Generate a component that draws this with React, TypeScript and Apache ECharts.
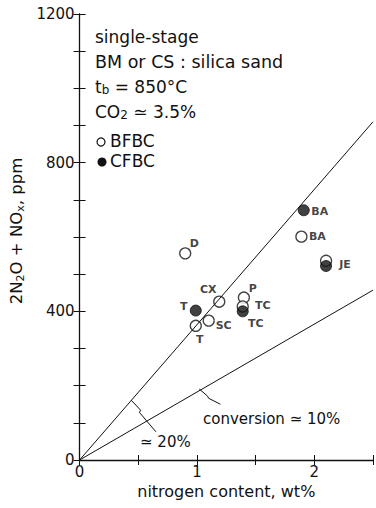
import React, { useEffect, useRef } from "react";
import * as echarts from "echarts";

// BFBC (open circles)
const openNames = ["D", "CX", "P", "TC", "BA", "JE", "SC", "T"];
const openX = [0.9, 1.19, 1.4, 1.39, 1.89, 2.1, 1.1, 0.99];
const openY = [556, 426, 437, 413, 601, 536, 375, 361];
// CFBC (filled circles)
const filledNames = ["BA", "JE", "TC", "T"];
const filledX = [1.91, 2.1, 1.39, 0.99];
const filledY = [672, 522, 400, 402];
// conversion lines
const conv20 = [[0, 0], [2.5, 910]];
const conv10 = [[0, 0], [2.5, 457]];
// leader marks (data coordinates)
const leader10 = [[1.02, 191], [1.09, 172], [1.1, 166], [1.2, 150]];
const leader20 = [[0.44, 161], [0.52, 134], [0.51, 128], [0.65, 76]];

// label offsets (pixels, relative to symbol centre)
const openOffsets: Record<string, number[]> = {
  D: [9, -10], CX: [-11, -12], P: [9, -9], TC: [20, -1], BA: [16, 0], JE: [0, 0], SC: [15, 5], T: [4, 14],
};
const filledOffsets: Record<string, number[]> = {
  BA: [16, 1], JE: [19, -1], TC: [13, 12], T: [-12, -4],
};

const FONT = "DejaVu Sans";

export default function App() {
  const ref = useRef<HTMLDivElement>(null);
  useEffect(() => {
    if (!ref.current) return;
    const chart = echarts.init(ref.current, null, { renderer: "svg" });
    const labelStyle = {
      fontFamily: FONT, fontSize: 11, fontWeight: "bold", color: "#111",
      textBorderWidth: 0, textBorderColor: "transparent",
    };
    const pt = (names: string[], xs: number[], ys: number[], offs: Record<string, number[]>, showJE: boolean) =>
      names.map((n, i) => ({
        value: [xs[i], ys[i]],
        name: n,
        label: {
          ...labelStyle,
          show: !(n === "JE" && !showJE),
          formatter: n,
          position: "inside",
          offset: offs[n],
        },
      }));
    chart.setOption({
      animation: false,
      backgroundColor: "#fff",
      grid: { left: 79, right: 1, top: 14, bottom: 48 },
      xAxis: [
        {
          type: "value", min: 0, max: 2.5, interval: 0.5,
          name: "nitrogen content, wt%", nameLocation: "middle", nameGap: 20,
          nameTextStyle: { fontFamily: FONT, fontSize: 16, color: "#111" },
          axisLine: { lineStyle: { color: "#111", width: 1.3 } },
          axisTick: { inside: true, length: 5, lineStyle: { color: "#111" } },
          axisLabel: {
            fontFamily: FONT, fontSize: 15, color: "#111", margin: 4,
            formatter: (v: number) => (Math.abs(v - Math.round(v)) < 1e-9 && v < 2.4 ? String(Math.round(v)) : ""),
          },
          splitLine: { show: false },
        },
        {
          type: "value", min: 0, max: 2.5, interval: 0.5, position: "top",
          axisLine: { show: true, lineStyle: { color: "#111", width: 1 } },
          axisTick: { inside: true, length: 5, lineStyle: { color: "#111" } },
          axisLabel: { show: false }, splitLine: { show: false },
        },
      ],
      yAxis: [
        {
          type: "value", min: 0, max: 1200, interval: 100,
          name: "{a|2N}{s|2}{a|O + NO}{s|x}{a|, ppm}", nameLocation: "middle", nameGap: 48,
          nameTextStyle: {
            padding: [0, 0, 0, 12],
            rich: {
              a: { fontFamily: FONT, fontSize: 16.5, color: "#111" },
              s: { fontFamily: FONT, fontSize: 11, color: "#111", verticalAlign: "bottom", padding: [7, 0, 0, 0] },
            },
          },
          axisLine: { lineStyle: { color: "#111", width: 1.3 } },
          axisTick: { inside: true, length: 6, lineStyle: { color: "#111" } },
          axisLabel: {
            fontFamily: FONT, fontSize: 15, color: "#111", margin: 5,
            formatter: (v: number) => (v % 400 === 0 ? String(v) : ""),
          },
          splitLine: { show: false },
        },
        {
          type: "value", min: 0, max: 1200, interval: 100, position: "right",
          axisLine: { show: true, lineStyle: { color: "#111", width: 1 } },
          axisTick: { inside: true, length: 6, lineStyle: { color: "#111" } },
          axisLabel: { show: false }, splitLine: { show: false },
        },
      ],
      series: [
        { type: "line", data: conv20, symbol: "none", silent: true, lineStyle: { color: "#111", width: 1 } },
        { type: "line", data: conv10, symbol: "none", silent: true, lineStyle: { color: "#111", width: 1 } },
        { type: "line", data: leader10, symbol: "none", silent: true, lineStyle: { color: "#111", width: 1 } },
        { type: "line", data: leader20, symbol: "none", silent: true, lineStyle: { color: "#111", width: 1 } },
        {
          type: "scatter", name: "BFBC", symbol: "circle", symbolSize: 11,
          itemStyle: { color: "#fff", borderColor: "#111", borderWidth: 1.3 },
          label: labelStyle,
          data: pt(openNames, openX, openY, openOffsets, false),
        },
        {
          type: "scatter", name: "CFBC", symbol: "circle", symbolSize: 11,
          itemStyle: { color: "#111", borderColor: "#111", borderWidth: 1 },
          label: labelStyle,
          data: pt(filledNames, filledX, filledY, filledOffsets, true),
        },
      ],
      graphic: [
        { type: "text", left: 95, top: 28, style: { text: "single-stage", font: `17px '${FONT}'`, fill: "#111" } },
        { type: "text", left: 95, top: 53, style: { text: "BM or CS : silica sand", font: `17.5px '${FONT}'`, fill: "#111" } },
        {
          type: "text", left: 95, top: 78,
          style: {
            text: "{a|t}{s|b}{a| = 850°C}",
            rich: {
              a: { fontFamily: FONT, fontSize: 17, fill: "#111" },
              s: { fontFamily: FONT, fontSize: 12, fill: "#111", padding: [6, 0, 0, 0] },
            },
          },
        },
        {
          type: "text", left: 95, top: 103,
          style: {
            text: "{a|CO}{s|2}{a| ≃ 3.5%}",
            rich: {
              a: { fontFamily: FONT, fontSize: 17, fill: "#111" },
              s: { fontFamily: FONT, fontSize: 12, fill: "#111", padding: [6, 0, 0, 0] },
            },
          },
        },
        { type: "circle", shape: { cx: 101, cy: 142, r: 4 }, style: { fill: "#fff", stroke: "#111", lineWidth: 1.2 } },
        { type: "text", left: 110, top: 132, style: { text: "BFBC", font: `17px '${FONT}'`, fill: "#111" } },
        { type: "circle", shape: { cx: 102, cy: 162, r: 4.5 }, style: { fill: "#111" } },
        { type: "text", left: 110, top: 152, style: { text: "CFBC", font: `17px '${FONT}'`, fill: "#111" } },
        { type: "text", left: 203, top: 411, style: { text: "conversion ≃ 10%", font: `15px '${FONT}'`, fill: "#111" } },
        { type: "text", left: 140, top: 434, style: { text: "≃ 20%", font: `15px '${FONT}'`, fill: "#111" } },
      ],
    });
    return () => chart.dispose();
  }, []);
  return <div ref={ref} style={{ width: 376, height: 508, position: "absolute", left: 0, top: 0 }} />;
}
